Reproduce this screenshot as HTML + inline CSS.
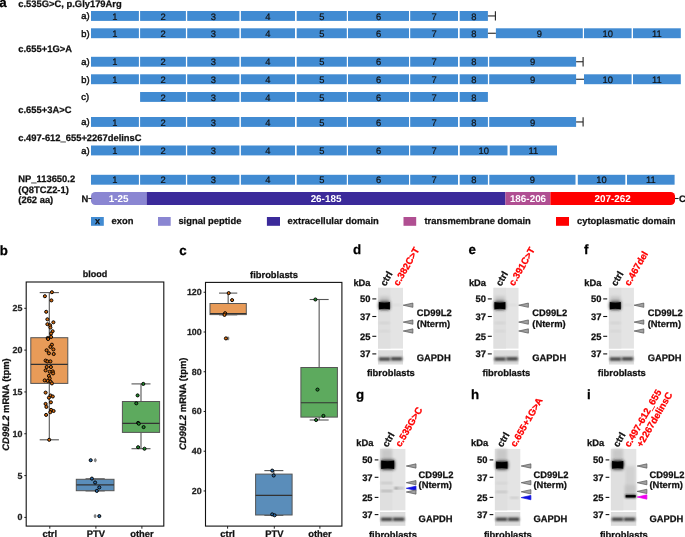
<!DOCTYPE html>
<html><head><meta charset="utf-8"><style>
html,body{margin:0;padding:0;background:#fff;}
svg{display:block;font-family:"Liberation Sans", sans-serif;will-change:transform;text-rendering:geometricPrecision;}
</style></head><body>
<svg width="685" height="537" viewBox="0 0 685 537">
<defs>
<filter id="bl1" x="-50%" y="-50%" width="200%" height="200%"><feGaussianBlur stdDeviation="0.85"/></filter>
<filter id="bl05" x="-50%" y="-50%" width="200%" height="200%"><feGaussianBlur stdDeviation="0.5"/></filter>
<filter id="bl08" x="-50%" y="-50%" width="200%" height="200%"><feGaussianBlur stdDeviation="0.8"/></filter>
<filter id="bl2" x="-50%" y="-50%" width="200%" height="200%"><feGaussianBlur stdDeviation="1.5"/></filter>
</defs>
<rect x="0" y="0" width="685" height="537" fill="#fff"/>
<text x="-0.8" y="6.9" font-size="13.3" font-weight="bold" fill="#000" text-anchor="start" stroke="#000" stroke-width="0.25" >a</text>
<text x="18.3" y="6.9" font-size="9.4" font-weight="bold" fill="#111" text-anchor="start" stroke="#111" stroke-width="0.25" >c.535G&gt;C, p.Gly179Arg</text>
<text x="81.2" y="19.3" font-size="9.4" font-weight="normal" fill="#111" text-anchor="start" stroke="#111" stroke-width="0.45" >a)</text>
<rect x="91" y="11" width="47.9" height="9.9" fill="#418BD2" />
<text x="114.95" y="19.6" font-size="9.4" font-weight="normal" fill="#111" text-anchor="middle" stroke="#111" stroke-width="0.2" >1</text>
<rect x="140.1" y="11" width="45.8" height="9.9" fill="#418BD2" />
<text x="163" y="19.6" font-size="9.4" font-weight="normal" fill="#111" text-anchor="middle" stroke="#111" stroke-width="0.2" >2</text>
<rect x="187.2" y="11" width="52.2" height="9.9" fill="#418BD2" />
<text x="213.3" y="19.6" font-size="9.4" font-weight="normal" fill="#111" text-anchor="middle" stroke="#111" stroke-width="0.2" >3</text>
<rect x="240.9" y="11" width="54.1" height="9.9" fill="#418BD2" />
<text x="267.95" y="19.6" font-size="9.4" font-weight="normal" fill="#111" text-anchor="middle" stroke="#111" stroke-width="0.2" >4</text>
<rect x="296.7" y="11" width="50.1" height="9.9" fill="#418BD2" />
<text x="321.75" y="19.6" font-size="9.4" font-weight="normal" fill="#111" text-anchor="middle" stroke="#111" stroke-width="0.2" >5</text>
<rect x="348" y="11" width="61" height="9.9" fill="#418BD2" />
<text x="378.5" y="19.6" font-size="9.4" font-weight="normal" fill="#111" text-anchor="middle" stroke="#111" stroke-width="0.2" >6</text>
<rect x="410.2" y="11" width="47.8" height="9.9" fill="#418BD2" />
<text x="434.1" y="19.6" font-size="9.4" font-weight="normal" fill="#111" text-anchor="middle" stroke="#111" stroke-width="0.2" >7</text>
<rect x="459.7" y="11" width="28.2" height="9.9" fill="#418BD2" />
<text x="473.8" y="19.6" font-size="9.4" font-weight="normal" fill="#111" text-anchor="middle" stroke="#111" stroke-width="0.2" >8</text>
<line x1="487.9" y1="15.95" x2="495.4" y2="15.95" stroke="#222222" stroke-width="1.1" />
<line x1="495.4" y1="11.3" x2="495.4" y2="20.6" stroke="#222222" stroke-width="1.1" />
<text x="81.2" y="36.6" font-size="9.4" font-weight="normal" fill="#111" text-anchor="start" stroke="#111" stroke-width="0.45" >b)</text>
<rect x="91" y="28.3" width="47.9" height="9.9" fill="#418BD2" />
<text x="114.95" y="36.9" font-size="9.4" font-weight="normal" fill="#111" text-anchor="middle" stroke="#111" stroke-width="0.2" >1</text>
<rect x="140.1" y="28.3" width="45.8" height="9.9" fill="#418BD2" />
<text x="163" y="36.9" font-size="9.4" font-weight="normal" fill="#111" text-anchor="middle" stroke="#111" stroke-width="0.2" >2</text>
<rect x="187.2" y="28.3" width="52.2" height="9.9" fill="#418BD2" />
<text x="213.3" y="36.9" font-size="9.4" font-weight="normal" fill="#111" text-anchor="middle" stroke="#111" stroke-width="0.2" >3</text>
<rect x="240.9" y="28.3" width="54.1" height="9.9" fill="#418BD2" />
<text x="267.95" y="36.9" font-size="9.4" font-weight="normal" fill="#111" text-anchor="middle" stroke="#111" stroke-width="0.2" >4</text>
<rect x="296.7" y="28.3" width="50.1" height="9.9" fill="#418BD2" />
<text x="321.75" y="36.9" font-size="9.4" font-weight="normal" fill="#111" text-anchor="middle" stroke="#111" stroke-width="0.2" >5</text>
<rect x="348" y="28.3" width="61" height="9.9" fill="#418BD2" />
<text x="378.5" y="36.9" font-size="9.4" font-weight="normal" fill="#111" text-anchor="middle" stroke="#111" stroke-width="0.2" >6</text>
<rect x="410.2" y="28.3" width="47.8" height="9.9" fill="#418BD2" />
<text x="434.1" y="36.9" font-size="9.4" font-weight="normal" fill="#111" text-anchor="middle" stroke="#111" stroke-width="0.2" >7</text>
<rect x="459.7" y="28.3" width="28.2" height="9.9" fill="#418BD2" />
<text x="473.8" y="36.9" font-size="9.4" font-weight="normal" fill="#111" text-anchor="middle" stroke="#111" stroke-width="0.2" >8</text>
<line x1="487.9" y1="33.25" x2="495.9" y2="33.25" stroke="#222222" stroke-width="1.1" />
<rect x="495.9" y="28.3" width="86.9" height="9.9" fill="#418BD2" />
<text x="539.35" y="36.9" font-size="9.4" font-weight="normal" fill="#111" text-anchor="middle" stroke="#111" stroke-width="0.2" >9</text>
<rect x="584" y="28.3" width="47.6" height="9.9" fill="#418BD2" />
<text x="607.8" y="36.9" font-size="9.4" font-weight="normal" fill="#111" text-anchor="middle" stroke="#111" stroke-width="0.2" >10</text>
<rect x="633" y="28.3" width="47.8" height="9.9" fill="#418BD2" />
<text x="656.9" y="36.9" font-size="9.4" font-weight="normal" fill="#111" text-anchor="middle" stroke="#111" stroke-width="0.2" >11</text>
<text x="18.3" y="52.4" font-size="9.4" font-weight="bold" fill="#111" text-anchor="start" stroke="#111" stroke-width="0.25" >c.655+1G&gt;A</text>
<text x="81.2" y="65.1" font-size="9.4" font-weight="normal" fill="#111" text-anchor="start" stroke="#111" stroke-width="0.45" >a)</text>
<rect x="91" y="56.8" width="47.9" height="9.9" fill="#418BD2" />
<text x="114.95" y="65.4" font-size="9.4" font-weight="normal" fill="#111" text-anchor="middle" stroke="#111" stroke-width="0.2" >1</text>
<rect x="140.1" y="56.8" width="45.8" height="9.9" fill="#418BD2" />
<text x="163" y="65.4" font-size="9.4" font-weight="normal" fill="#111" text-anchor="middle" stroke="#111" stroke-width="0.2" >2</text>
<rect x="187.2" y="56.8" width="52.2" height="9.9" fill="#418BD2" />
<text x="213.3" y="65.4" font-size="9.4" font-weight="normal" fill="#111" text-anchor="middle" stroke="#111" stroke-width="0.2" >3</text>
<rect x="240.9" y="56.8" width="54.1" height="9.9" fill="#418BD2" />
<text x="267.95" y="65.4" font-size="9.4" font-weight="normal" fill="#111" text-anchor="middle" stroke="#111" stroke-width="0.2" >4</text>
<rect x="296.7" y="56.8" width="50.1" height="9.9" fill="#418BD2" />
<text x="321.75" y="65.4" font-size="9.4" font-weight="normal" fill="#111" text-anchor="middle" stroke="#111" stroke-width="0.2" >5</text>
<rect x="348" y="56.8" width="61" height="9.9" fill="#418BD2" />
<text x="378.5" y="65.4" font-size="9.4" font-weight="normal" fill="#111" text-anchor="middle" stroke="#111" stroke-width="0.2" >6</text>
<rect x="410.2" y="56.8" width="47.8" height="9.9" fill="#418BD2" />
<text x="434.1" y="65.4" font-size="9.4" font-weight="normal" fill="#111" text-anchor="middle" stroke="#111" stroke-width="0.2" >7</text>
<rect x="459.7" y="56.8" width="28.2" height="9.9" fill="#418BD2" />
<text x="473.8" y="65.4" font-size="9.4" font-weight="normal" fill="#111" text-anchor="middle" stroke="#111" stroke-width="0.2" >8</text>
<rect x="489.2" y="56.8" width="86.9" height="9.9" fill="#418BD2" />
<text x="532.65" y="65.4" font-size="9.4" font-weight="normal" fill="#111" text-anchor="middle" stroke="#111" stroke-width="0.2" >9</text>
<line x1="576.1" y1="61.75" x2="583.1" y2="61.75" stroke="#222222" stroke-width="1.1" />
<line x1="583.1" y1="57.1" x2="583.1" y2="66.4" stroke="#222222" stroke-width="1.1" />
<text x="81.2" y="82.6" font-size="9.4" font-weight="normal" fill="#111" text-anchor="start" stroke="#111" stroke-width="0.45" >b)</text>
<rect x="91" y="74.3" width="47.9" height="9.9" fill="#418BD2" />
<text x="114.95" y="82.9" font-size="9.4" font-weight="normal" fill="#111" text-anchor="middle" stroke="#111" stroke-width="0.2" >1</text>
<rect x="140.1" y="74.3" width="45.8" height="9.9" fill="#418BD2" />
<text x="163" y="82.9" font-size="9.4" font-weight="normal" fill="#111" text-anchor="middle" stroke="#111" stroke-width="0.2" >2</text>
<rect x="187.2" y="74.3" width="52.2" height="9.9" fill="#418BD2" />
<text x="213.3" y="82.9" font-size="9.4" font-weight="normal" fill="#111" text-anchor="middle" stroke="#111" stroke-width="0.2" >3</text>
<rect x="240.9" y="74.3" width="54.1" height="9.9" fill="#418BD2" />
<text x="267.95" y="82.9" font-size="9.4" font-weight="normal" fill="#111" text-anchor="middle" stroke="#111" stroke-width="0.2" >4</text>
<rect x="296.7" y="74.3" width="50.1" height="9.9" fill="#418BD2" />
<text x="321.75" y="82.9" font-size="9.4" font-weight="normal" fill="#111" text-anchor="middle" stroke="#111" stroke-width="0.2" >5</text>
<rect x="348" y="74.3" width="61" height="9.9" fill="#418BD2" />
<text x="378.5" y="82.9" font-size="9.4" font-weight="normal" fill="#111" text-anchor="middle" stroke="#111" stroke-width="0.2" >6</text>
<rect x="410.2" y="74.3" width="47.8" height="9.9" fill="#418BD2" />
<text x="434.1" y="82.9" font-size="9.4" font-weight="normal" fill="#111" text-anchor="middle" stroke="#111" stroke-width="0.2" >7</text>
<rect x="459.7" y="74.3" width="28.2" height="9.9" fill="#418BD2" />
<text x="473.8" y="82.9" font-size="9.4" font-weight="normal" fill="#111" text-anchor="middle" stroke="#111" stroke-width="0.2" >8</text>
<rect x="489.2" y="74.3" width="86.9" height="9.9" fill="#418BD2" />
<text x="532.65" y="82.9" font-size="9.4" font-weight="normal" fill="#111" text-anchor="middle" stroke="#111" stroke-width="0.2" >9</text>
<line x1="576.1" y1="79.25" x2="584" y2="79.25" stroke="#222222" stroke-width="1.1" />
<rect x="584" y="74.3" width="47.6" height="9.9" fill="#418BD2" />
<text x="607.8" y="82.9" font-size="9.4" font-weight="normal" fill="#111" text-anchor="middle" stroke="#111" stroke-width="0.2" >10</text>
<rect x="633" y="74.3" width="47.8" height="9.9" fill="#418BD2" />
<text x="656.9" y="82.9" font-size="9.4" font-weight="normal" fill="#111" text-anchor="middle" stroke="#111" stroke-width="0.2" >11</text>
<text x="81.2" y="100.3" font-size="9.4" font-weight="normal" fill="#111" text-anchor="start" stroke="#111" stroke-width="0.45" >c)</text>
<rect x="140.1" y="92" width="45.8" height="9.9" fill="#418BD2" />
<text x="163" y="100.6" font-size="9.4" font-weight="normal" fill="#111" text-anchor="middle" stroke="#111" stroke-width="0.2" >2</text>
<rect x="187.2" y="92" width="52.2" height="9.9" fill="#418BD2" />
<text x="213.3" y="100.6" font-size="9.4" font-weight="normal" fill="#111" text-anchor="middle" stroke="#111" stroke-width="0.2" >3</text>
<rect x="240.9" y="92" width="54.1" height="9.9" fill="#418BD2" />
<text x="267.95" y="100.6" font-size="9.4" font-weight="normal" fill="#111" text-anchor="middle" stroke="#111" stroke-width="0.2" >4</text>
<rect x="296.7" y="92" width="50.1" height="9.9" fill="#418BD2" />
<text x="321.75" y="100.6" font-size="9.4" font-weight="normal" fill="#111" text-anchor="middle" stroke="#111" stroke-width="0.2" >5</text>
<rect x="348" y="92" width="61" height="9.9" fill="#418BD2" />
<text x="378.5" y="100.6" font-size="9.4" font-weight="normal" fill="#111" text-anchor="middle" stroke="#111" stroke-width="0.2" >6</text>
<rect x="410.2" y="92" width="47.8" height="9.9" fill="#418BD2" />
<text x="434.1" y="100.6" font-size="9.4" font-weight="normal" fill="#111" text-anchor="middle" stroke="#111" stroke-width="0.2" >7</text>
<rect x="459.7" y="92" width="28.2" height="9.9" fill="#418BD2" />
<text x="473.8" y="100.6" font-size="9.4" font-weight="normal" fill="#111" text-anchor="middle" stroke="#111" stroke-width="0.2" >8</text>
<text x="18.3" y="113.1" font-size="9.4" font-weight="bold" fill="#111" text-anchor="start" stroke="#111" stroke-width="0.25" >c.655+3A&gt;C</text>
<text x="81.2" y="125.3" font-size="9.4" font-weight="normal" fill="#111" text-anchor="start" stroke="#111" stroke-width="0.45" >a)</text>
<rect x="91" y="117" width="47.9" height="9.9" fill="#418BD2" />
<text x="114.95" y="125.6" font-size="9.4" font-weight="normal" fill="#111" text-anchor="middle" stroke="#111" stroke-width="0.2" >1</text>
<rect x="140.1" y="117" width="45.8" height="9.9" fill="#418BD2" />
<text x="163" y="125.6" font-size="9.4" font-weight="normal" fill="#111" text-anchor="middle" stroke="#111" stroke-width="0.2" >2</text>
<rect x="187.2" y="117" width="52.2" height="9.9" fill="#418BD2" />
<text x="213.3" y="125.6" font-size="9.4" font-weight="normal" fill="#111" text-anchor="middle" stroke="#111" stroke-width="0.2" >3</text>
<rect x="240.9" y="117" width="54.1" height="9.9" fill="#418BD2" />
<text x="267.95" y="125.6" font-size="9.4" font-weight="normal" fill="#111" text-anchor="middle" stroke="#111" stroke-width="0.2" >4</text>
<rect x="296.7" y="117" width="50.1" height="9.9" fill="#418BD2" />
<text x="321.75" y="125.6" font-size="9.4" font-weight="normal" fill="#111" text-anchor="middle" stroke="#111" stroke-width="0.2" >5</text>
<rect x="348" y="117" width="61" height="9.9" fill="#418BD2" />
<text x="378.5" y="125.6" font-size="9.4" font-weight="normal" fill="#111" text-anchor="middle" stroke="#111" stroke-width="0.2" >6</text>
<rect x="410.2" y="117" width="47.8" height="9.9" fill="#418BD2" />
<text x="434.1" y="125.6" font-size="9.4" font-weight="normal" fill="#111" text-anchor="middle" stroke="#111" stroke-width="0.2" >7</text>
<rect x="459.7" y="117" width="28.2" height="9.9" fill="#418BD2" />
<text x="473.8" y="125.6" font-size="9.4" font-weight="normal" fill="#111" text-anchor="middle" stroke="#111" stroke-width="0.2" >8</text>
<rect x="489.2" y="117" width="86.9" height="9.9" fill="#418BD2" />
<text x="532.65" y="125.6" font-size="9.4" font-weight="normal" fill="#111" text-anchor="middle" stroke="#111" stroke-width="0.2" >9</text>
<line x1="576.1" y1="121.95" x2="583.1" y2="121.95" stroke="#222222" stroke-width="1.1" />
<line x1="583.1" y1="117.3" x2="583.1" y2="126.6" stroke="#222222" stroke-width="1.1" />
<text x="18.3" y="141.2" font-size="9.4" font-weight="bold" fill="#111" text-anchor="start" stroke="#111" stroke-width="0.25" >c.497-612_655+2267delinsC</text>
<text x="81.2" y="153.8" font-size="9.4" font-weight="normal" fill="#111" text-anchor="start" stroke="#111" stroke-width="0.45" >a)</text>
<rect x="91" y="145.5" width="47.9" height="9.9" fill="#418BD2" />
<text x="114.95" y="154.1" font-size="9.4" font-weight="normal" fill="#111" text-anchor="middle" stroke="#111" stroke-width="0.2" >1</text>
<rect x="140.1" y="145.5" width="45.8" height="9.9" fill="#418BD2" />
<text x="163" y="154.1" font-size="9.4" font-weight="normal" fill="#111" text-anchor="middle" stroke="#111" stroke-width="0.2" >2</text>
<rect x="187.2" y="145.5" width="52.2" height="9.9" fill="#418BD2" />
<text x="213.3" y="154.1" font-size="9.4" font-weight="normal" fill="#111" text-anchor="middle" stroke="#111" stroke-width="0.2" >3</text>
<rect x="240.9" y="145.5" width="54.1" height="9.9" fill="#418BD2" />
<text x="267.95" y="154.1" font-size="9.4" font-weight="normal" fill="#111" text-anchor="middle" stroke="#111" stroke-width="0.2" >4</text>
<rect x="296.7" y="145.5" width="50.1" height="9.9" fill="#418BD2" />
<text x="321.75" y="154.1" font-size="9.4" font-weight="normal" fill="#111" text-anchor="middle" stroke="#111" stroke-width="0.2" >5</text>
<rect x="348" y="145.5" width="61" height="9.9" fill="#418BD2" />
<text x="378.5" y="154.1" font-size="9.4" font-weight="normal" fill="#111" text-anchor="middle" stroke="#111" stroke-width="0.2" >6</text>
<rect x="410.2" y="145.5" width="47.8" height="9.9" fill="#418BD2" />
<text x="434.1" y="154.1" font-size="9.4" font-weight="normal" fill="#111" text-anchor="middle" stroke="#111" stroke-width="0.2" >7</text>
<rect x="459.8" y="145.5" width="47.7" height="9.9" fill="#418BD2" />
<text x="483.65" y="154.1" font-size="9.4" font-weight="normal" fill="#111" text-anchor="middle" stroke="#111" stroke-width="0.2" >10</text>
<rect x="509.8" y="145.5" width="47.2" height="9.9" fill="#418BD2" />
<text x="533.4" y="154.1" font-size="9.4" font-weight="normal" fill="#111" text-anchor="middle" stroke="#111" stroke-width="0.2" >11</text>
<text x="18.3" y="181.8" font-size="9.4" font-weight="bold" fill="#111" text-anchor="start" stroke="#111" stroke-width="0.25" >NP_113650.2</text>
<text x="18.3" y="192.6" font-size="9.4" font-weight="bold" fill="#111" text-anchor="start" stroke="#111" stroke-width="0.25" >(Q8TCZ2-1)</text>
<text x="18.3" y="203" font-size="9.4" font-weight="bold" fill="#111" text-anchor="start" stroke="#111" stroke-width="0.25" >(262 aa)</text>
<rect x="91" y="174.8" width="47.9" height="9.9" fill="#418BD2" />
<text x="114.95" y="183.4" font-size="9.4" font-weight="normal" fill="#111" text-anchor="middle" stroke="#111" stroke-width="0.2" >1</text>
<rect x="140.1" y="174.8" width="45.8" height="9.9" fill="#418BD2" />
<text x="163" y="183.4" font-size="9.4" font-weight="normal" fill="#111" text-anchor="middle" stroke="#111" stroke-width="0.2" >2</text>
<rect x="187.2" y="174.8" width="52.2" height="9.9" fill="#418BD2" />
<text x="213.3" y="183.4" font-size="9.4" font-weight="normal" fill="#111" text-anchor="middle" stroke="#111" stroke-width="0.2" >3</text>
<rect x="240.9" y="174.8" width="54.1" height="9.9" fill="#418BD2" />
<text x="267.95" y="183.4" font-size="9.4" font-weight="normal" fill="#111" text-anchor="middle" stroke="#111" stroke-width="0.2" >4</text>
<rect x="296.7" y="174.8" width="50.1" height="9.9" fill="#418BD2" />
<text x="321.75" y="183.4" font-size="9.4" font-weight="normal" fill="#111" text-anchor="middle" stroke="#111" stroke-width="0.2" >5</text>
<rect x="348" y="174.8" width="61" height="9.9" fill="#418BD2" />
<text x="378.5" y="183.4" font-size="9.4" font-weight="normal" fill="#111" text-anchor="middle" stroke="#111" stroke-width="0.2" >6</text>
<rect x="410.2" y="174.8" width="47.8" height="9.9" fill="#418BD2" />
<text x="434.1" y="183.4" font-size="9.4" font-weight="normal" fill="#111" text-anchor="middle" stroke="#111" stroke-width="0.2" >7</text>
<rect x="459.7" y="174.8" width="28.2" height="9.9" fill="#418BD2" />
<text x="473.8" y="183.4" font-size="9.4" font-weight="normal" fill="#111" text-anchor="middle" stroke="#111" stroke-width="0.2" >8</text>
<rect x="489.3" y="174.8" width="86.2" height="9.9" fill="#418BD2" />
<text x="532.4" y="183.4" font-size="9.4" font-weight="normal" fill="#111" text-anchor="middle" stroke="#111" stroke-width="0.2" >9</text>
<rect x="577.8" y="174.8" width="47.5" height="9.9" fill="#418BD2" />
<text x="601.55" y="183.4" font-size="9.4" font-weight="normal" fill="#111" text-anchor="middle" stroke="#111" stroke-width="0.2" >10</text>
<rect x="627" y="174.8" width="47.6" height="9.9" fill="#418BD2" />
<text x="650.8" y="183.4" font-size="9.4" font-weight="normal" fill="#111" text-anchor="middle" stroke="#111" stroke-width="0.2" >11</text>
<defs><clipPath id="pclip"><rect x="90.9" y="192" width="584.2" height="13.1" rx="4.5" ry="4.5"/></clipPath></defs>
<g clip-path="url(#pclip)">
<rect x="90.9" y="192" width="55.7" height="13.1" fill="#8A86D2" />
<rect x="146.6" y="192" width="358.8" height="13.1" fill="#3B2A9A" />
<rect x="505.4" y="192" width="45" height="13.1" fill="#B04F92" />
<rect x="550.4" y="192" width="124.7" height="13.1" fill="#FF0000" />
</g>
<text x="118.7" y="202.1" font-size="9.9" font-weight="bold" fill="#fff" text-anchor="middle" >1-25</text>
<text x="326" y="202.1" font-size="9.9" font-weight="bold" fill="#fff" text-anchor="middle" >26-185</text>
<text x="528" y="202.1" font-size="9.9" font-weight="bold" fill="#fff" text-anchor="middle" >186-206</text>
<text x="612.7" y="202.1" font-size="9.9" font-weight="bold" fill="#fff" text-anchor="middle" >207-262</text>
<text x="81.4" y="202.3" font-size="9.4" font-weight="bold" fill="#111" text-anchor="start" stroke="#111" stroke-width="0.25" >N</text>
<line x1="88.3" y1="198.5" x2="91.5" y2="198.5" stroke="#222222" stroke-width="1.1" />
<line x1="675" y1="198.5" x2="678.6" y2="198.5" stroke="#222222" stroke-width="1.1" />
<text x="679" y="202.3" font-size="9.4" font-weight="bold" fill="#111" text-anchor="start" stroke="#111" stroke-width="0.25" >C</text>
<rect x="91" y="217" width="12.8" height="8.8" fill="#418BD2" />
<text x="97.4" y="224.3" font-size="9.0" font-weight="bold" fill="#111" text-anchor="middle" stroke="#111" stroke-width="0.25" >x</text>
<text x="111.5" y="224.3" font-size="9.4" font-weight="bold" fill="#111" text-anchor="start" stroke="#111" stroke-width="0.25" >exon</text>
<rect x="158" y="217" width="12.7" height="8.8" fill="#8A86D2" />
<text x="178.4" y="224.3" font-size="9.4" font-weight="bold" fill="#111" text-anchor="start" stroke="#111" stroke-width="0.25" >signal peptide</text>
<rect x="266.9" y="217" width="13.1" height="8.8" fill="#3B2A9A" />
<text x="287.6" y="224.3" font-size="9.4" font-weight="bold" fill="#111" text-anchor="start" stroke="#111" stroke-width="0.25" >extracellular domain</text>
<rect x="403.5" y="217" width="12.7" height="8.8" fill="#B04F92" />
<text x="424.5" y="224.3" font-size="9.4" font-weight="bold" fill="#111" text-anchor="start" stroke="#111" stroke-width="0.25" >transmembrane domain</text>
<rect x="556" y="217" width="13" height="8.8" fill="#FF0000" />
<text x="577" y="224.3" font-size="9.4" font-weight="bold" fill="#111" text-anchor="start" stroke="#111" stroke-width="0.25" >cytoplasmatic domain</text>
<text x="-0.3" y="254.7" font-size="13.3" font-weight="bold" fill="#000" text-anchor="start" stroke="#000" stroke-width="0.25" >b</text>
<text x="95" y="277.4" font-size="9.0" font-weight="bold" fill="#111" text-anchor="middle" stroke="#111" stroke-width="0.25" >blood</text>
<line x1="24.3" y1="517.4" x2="26.2" y2="517.4" stroke="#222" stroke-width="1" />
<text x="22.4" y="520.4" font-size="8.9" font-weight="bold" fill="#222" text-anchor="end" stroke="#222" stroke-width="0.25" >0</text>
<line x1="24.3" y1="475.58" x2="26.2" y2="475.58" stroke="#222" stroke-width="1" />
<text x="22.4" y="478.58" font-size="8.9" font-weight="bold" fill="#222" text-anchor="end" stroke="#222" stroke-width="0.25" >5</text>
<line x1="24.3" y1="433.76" x2="26.2" y2="433.76" stroke="#222" stroke-width="1" />
<text x="22.4" y="436.76" font-size="8.9" font-weight="bold" fill="#222" text-anchor="end" stroke="#222" stroke-width="0.25" >10</text>
<line x1="24.3" y1="391.94" x2="26.2" y2="391.94" stroke="#222" stroke-width="1" />
<text x="22.4" y="394.94" font-size="8.9" font-weight="bold" fill="#222" text-anchor="end" stroke="#222" stroke-width="0.25" >15</text>
<line x1="24.3" y1="350.12" x2="26.2" y2="350.12" stroke="#222" stroke-width="1" />
<text x="22.4" y="353.12" font-size="8.9" font-weight="bold" fill="#222" text-anchor="end" stroke="#222" stroke-width="0.25" >20</text>
<line x1="24.3" y1="308.3" x2="26.2" y2="308.3" stroke="#222" stroke-width="1" />
<text x="22.4" y="311.3" font-size="8.9" font-weight="bold" fill="#222" text-anchor="end" stroke="#222" stroke-width="0.25" >25</text>
<line x1="49.8" y1="526.1" x2="49.8" y2="528.7" stroke="#222" stroke-width="1" />
<text x="49.8" y="536.5" font-size="9.4" font-weight="bold" fill="#111" text-anchor="middle" stroke="#111" stroke-width="0.25" >ctrl</text>
<line x1="95.9" y1="526.1" x2="95.9" y2="528.7" stroke="#222" stroke-width="1" />
<text x="95.9" y="536.5" font-size="9.4" font-weight="bold" fill="#111" text-anchor="middle" stroke="#111" stroke-width="0.25" >PTV</text>
<line x1="141.9" y1="526.1" x2="141.9" y2="528.7" stroke="#222" stroke-width="1" />
<text x="141.9" y="536.5" font-size="9.4" font-weight="bold" fill="#111" text-anchor="middle" stroke="#111" stroke-width="0.25" >other</text>
<text transform="translate(8.5,404.5) rotate(-90)" font-size="9.45" font-weight="bold" fill="#111" stroke="#111" stroke-width="0.25" text-anchor="middle"><tspan font-style="italic">CD99L2</tspan> mRNA (tpm)</text>
<line x1="49.3" y1="292.6" x2="49.3" y2="337.7" stroke="#555" stroke-width="1.1" />
<line x1="49.3" y1="383.4" x2="49.3" y2="439.8" stroke="#555" stroke-width="1.1" />
<line x1="39.7" y1="292.6" x2="58.9" y2="292.6" stroke="#555" stroke-width="1.1" />
<line x1="39.7" y1="439.8" x2="58.9" y2="439.8" stroke="#555" stroke-width="1.1" />
<rect x="30.8" y="337.7" width="37" height="45.7" fill="#E89B58" stroke="#555" stroke-width="1"/>
<line x1="30.8" y1="364.4" x2="67.8" y2="364.4" stroke="#333" stroke-width="1.1" />
<line x1="95.15" y1="478.8" x2="95.15" y2="479.3" stroke="#555" stroke-width="1.1" />
<line x1="95.15" y1="490.7" x2="95.15" y2="490.9" stroke="#555" stroke-width="1.1" />
<line x1="85.55" y1="478.8" x2="104.75" y2="478.8" stroke="#555" stroke-width="1.1" />
<line x1="85.55" y1="490.9" x2="104.75" y2="490.9" stroke="#555" stroke-width="1.1" />
<rect x="76.3" y="479.3" width="37.7" height="11.4" fill="#5A8DBA" stroke="#555" stroke-width="1"/>
<line x1="76.3" y1="484.9" x2="114" y2="484.9" stroke="#333" stroke-width="1.1" />
<line x1="141" y1="383.9" x2="141" y2="401.5" stroke="#555" stroke-width="1.1" />
<line x1="141" y1="432.4" x2="141" y2="448.7" stroke="#555" stroke-width="1.1" />
<line x1="131.5" y1="383.9" x2="150.5" y2="383.9" stroke="#555" stroke-width="1.1" />
<line x1="131.5" y1="448.7" x2="150.5" y2="448.7" stroke="#555" stroke-width="1.1" />
<rect x="122.4" y="401.5" width="37.2" height="30.9" fill="#5DAA5E" stroke="#555" stroke-width="1"/>
<line x1="122.4" y1="423.4" x2="159.6" y2="423.4" stroke="#333" stroke-width="1.1" />
<circle cx="51.9" cy="292.2" r="1.55" fill="#D26A10" stroke="#000" stroke-width="0.95"/>
<circle cx="44.9" cy="296.2" r="1.55" fill="#D26A10" stroke="#000" stroke-width="0.95"/>
<circle cx="51.4" cy="300.4" r="1.55" fill="#D26A10" stroke="#000" stroke-width="0.95"/>
<circle cx="46.2" cy="311.8" r="1.55" fill="#D26A10" stroke="#000" stroke-width="0.95"/>
<circle cx="47.4" cy="319.3" r="1.55" fill="#D26A10" stroke="#000" stroke-width="0.95"/>
<circle cx="53.4" cy="322.3" r="1.55" fill="#D26A10" stroke="#000" stroke-width="0.95"/>
<circle cx="47.4" cy="324.2" r="1.55" fill="#D26A10" stroke="#000" stroke-width="0.95"/>
<circle cx="50.1" cy="325.3" r="1.55" fill="#D26A10" stroke="#000" stroke-width="0.95"/>
<circle cx="50.4" cy="327.5" r="1.55" fill="#D26A10" stroke="#000" stroke-width="0.95"/>
<circle cx="52.6" cy="331.2" r="1.55" fill="#D26A10" stroke="#000" stroke-width="0.95"/>
<circle cx="51.1" cy="333.5" r="1.55" fill="#D26A10" stroke="#000" stroke-width="0.95"/>
<circle cx="51.1" cy="336.9" r="1.55" fill="#D26A10" stroke="#000" stroke-width="0.95"/>
<circle cx="47.7" cy="338" r="1.55" fill="#D26A10" stroke="#000" stroke-width="0.95"/>
<circle cx="48.1" cy="339" r="1.55" fill="#D26A10" stroke="#000" stroke-width="0.95"/>
<circle cx="51.9" cy="344.7" r="1.55" fill="#D26A10" stroke="#000" stroke-width="0.95"/>
<circle cx="50.4" cy="346.9" r="1.55" fill="#D26A10" stroke="#000" stroke-width="0.95"/>
<circle cx="53.4" cy="349.4" r="1.55" fill="#D26A10" stroke="#000" stroke-width="0.95"/>
<circle cx="46.6" cy="350.3" r="1.55" fill="#D26A10" stroke="#000" stroke-width="0.95"/>
<circle cx="48.9" cy="353.3" r="1.55" fill="#D26A10" stroke="#000" stroke-width="0.95"/>
<circle cx="53.7" cy="354" r="1.55" fill="#D26A10" stroke="#000" stroke-width="0.95"/>
<circle cx="45.6" cy="360.6" r="1.55" fill="#D26A10" stroke="#000" stroke-width="0.95"/>
<circle cx="47.4" cy="361.4" r="1.55" fill="#D26A10" stroke="#000" stroke-width="0.95"/>
<circle cx="50.4" cy="361.4" r="1.55" fill="#D26A10" stroke="#000" stroke-width="0.95"/>
<circle cx="46.7" cy="367" r="1.55" fill="#D26A10" stroke="#000" stroke-width="0.95"/>
<circle cx="50.9" cy="367" r="1.55" fill="#D26A10" stroke="#000" stroke-width="0.95"/>
<circle cx="45.6" cy="370.4" r="1.55" fill="#D26A10" stroke="#000" stroke-width="0.95"/>
<circle cx="49.7" cy="371.7" r="1.55" fill="#D26A10" stroke="#000" stroke-width="0.95"/>
<circle cx="52.8" cy="371.4" r="1.55" fill="#D26A10" stroke="#000" stroke-width="0.95"/>
<circle cx="53.1" cy="373.4" r="1.55" fill="#D26A10" stroke="#000" stroke-width="0.95"/>
<circle cx="48.9" cy="375.9" r="1.55" fill="#D26A10" stroke="#000" stroke-width="0.95"/>
<circle cx="49.7" cy="378.4" r="1.55" fill="#D26A10" stroke="#000" stroke-width="0.95"/>
<circle cx="44.7" cy="380.4" r="1.55" fill="#D26A10" stroke="#000" stroke-width="0.95"/>
<circle cx="47.7" cy="380.9" r="1.55" fill="#D26A10" stroke="#000" stroke-width="0.95"/>
<circle cx="50.6" cy="381.8" r="1.55" fill="#D26A10" stroke="#000" stroke-width="0.95"/>
<circle cx="51.9" cy="383.4" r="1.55" fill="#D26A10" stroke="#000" stroke-width="0.95"/>
<circle cx="45.6" cy="392.6" r="1.55" fill="#D26A10" stroke="#000" stroke-width="0.95"/>
<circle cx="50.6" cy="395.5" r="1.55" fill="#D26A10" stroke="#000" stroke-width="0.95"/>
<circle cx="52.8" cy="396.5" r="1.55" fill="#D26A10" stroke="#000" stroke-width="0.95"/>
<circle cx="48.9" cy="397.7" r="1.55" fill="#D26A10" stroke="#000" stroke-width="0.95"/>
<circle cx="50.9" cy="402.3" r="1.55" fill="#D26A10" stroke="#000" stroke-width="0.95"/>
<circle cx="45.6" cy="403.9" r="1.55" fill="#D26A10" stroke="#000" stroke-width="0.95"/>
<circle cx="46.4" cy="406.9" r="1.55" fill="#D26A10" stroke="#000" stroke-width="0.95"/>
<circle cx="51.1" cy="409.9" r="1.55" fill="#D26A10" stroke="#000" stroke-width="0.95"/>
<circle cx="53.6" cy="411" r="1.55" fill="#D26A10" stroke="#000" stroke-width="0.95"/>
<circle cx="50.3" cy="412.2" r="1.55" fill="#D26A10" stroke="#000" stroke-width="0.95"/>
<circle cx="46.1" cy="414.9" r="1.55" fill="#D26A10" stroke="#000" stroke-width="0.95"/>
<circle cx="49.2" cy="439.8" r="1.55" fill="#D26A10" stroke="#000" stroke-width="0.95"/>
<ellipse cx="95.3" cy="460.2" rx="1.0" ry="1.7" fill="#8a8a8a" stroke="#555" stroke-width="0.5"/>
<ellipse cx="95.1" cy="516.1" rx="1.0" ry="1.7" fill="#8a8a8a" stroke="#555" stroke-width="0.5"/>
<circle cx="90.7" cy="460.2" r="1.55" fill="#2C6AA6" stroke="#000" stroke-width="0.95"/>
<circle cx="91.9" cy="478.6" r="1.55" fill="#2C6AA6" stroke="#000" stroke-width="0.95"/>
<circle cx="95.1" cy="482.5" r="1.55" fill="#2C6AA6" stroke="#000" stroke-width="0.95"/>
<circle cx="99.3" cy="487.4" r="1.55" fill="#2C6AA6" stroke="#000" stroke-width="0.95"/>
<circle cx="96.8" cy="490.9" r="1.55" fill="#2C6AA6" stroke="#000" stroke-width="0.95"/>
<circle cx="99.3" cy="516.1" r="1.55" fill="#2C6AA6" stroke="#000" stroke-width="0.95"/>
<circle cx="143.3" cy="383.9" r="1.55" fill="#1E8A2A" stroke="#000" stroke-width="0.95"/>
<circle cx="137.6" cy="395.4" r="1.55" fill="#1E8A2A" stroke="#000" stroke-width="0.95"/>
<circle cx="136.3" cy="403.3" r="1.55" fill="#1E8A2A" stroke="#000" stroke-width="0.95"/>
<circle cx="138.1" cy="422.9" r="1.55" fill="#1E8A2A" stroke="#000" stroke-width="0.95"/>
<circle cx="138.8" cy="423.7" r="1.55" fill="#1E8A2A" stroke="#000" stroke-width="0.95"/>
<circle cx="143.6" cy="427.1" r="1.55" fill="#1E8A2A" stroke="#000" stroke-width="0.95"/>
<circle cx="138.1" cy="447.2" r="1.55" fill="#1E8A2A" stroke="#000" stroke-width="0.95"/>
<circle cx="144.5" cy="448.7" r="1.55" fill="#1E8A2A" stroke="#000" stroke-width="0.95"/>
<rect x="26.2" y="282" width="137.6" height="244.1" fill="none" stroke="#111" stroke-width="1.1"/>
<text x="179.3" y="255.4" font-size="13.3" font-weight="bold" fill="#000" text-anchor="start" stroke="#000" stroke-width="0.25" >c</text>
<text x="274" y="277.6" font-size="9.4" font-weight="bold" fill="#111" text-anchor="middle" stroke="#111" stroke-width="0.25" >fibroblasts</text>
<line x1="203.6" y1="490.96" x2="205.5" y2="490.96" stroke="#222" stroke-width="1" />
<text x="201.7" y="493.96" font-size="8.9" font-weight="bold" fill="#222" text-anchor="end" stroke="#222" stroke-width="0.25" >20</text>
<line x1="203.6" y1="451.22" x2="205.5" y2="451.22" stroke="#222" stroke-width="1" />
<text x="201.7" y="454.22" font-size="8.9" font-weight="bold" fill="#222" text-anchor="end" stroke="#222" stroke-width="0.25" >40</text>
<line x1="203.6" y1="411.48" x2="205.5" y2="411.48" stroke="#222" stroke-width="1" />
<text x="201.7" y="414.48" font-size="8.9" font-weight="bold" fill="#222" text-anchor="end" stroke="#222" stroke-width="0.25" >60</text>
<line x1="203.6" y1="371.74" x2="205.5" y2="371.74" stroke="#222" stroke-width="1" />
<text x="201.7" y="374.74" font-size="8.9" font-weight="bold" fill="#222" text-anchor="end" stroke="#222" stroke-width="0.25" >80</text>
<line x1="203.6" y1="332" x2="205.5" y2="332" stroke="#222" stroke-width="1" />
<text x="201.7" y="335" font-size="8.9" font-weight="bold" fill="#222" text-anchor="end" stroke="#222" stroke-width="0.25" >100</text>
<line x1="203.6" y1="292.26" x2="205.5" y2="292.26" stroke="#222" stroke-width="1" />
<text x="201.7" y="295.26" font-size="8.9" font-weight="bold" fill="#222" text-anchor="end" stroke="#222" stroke-width="0.25" >120</text>
<line x1="227.6" y1="526.1" x2="227.6" y2="528.7" stroke="#222" stroke-width="1" />
<text x="227.6" y="536.5" font-size="9.4" font-weight="bold" fill="#111" text-anchor="middle" stroke="#111" stroke-width="0.25" >ctrl</text>
<line x1="274.3" y1="526.1" x2="274.3" y2="528.7" stroke="#222" stroke-width="1" />
<text x="274.3" y="536.5" font-size="9.4" font-weight="bold" fill="#111" text-anchor="middle" stroke="#111" stroke-width="0.25" >PTV</text>
<line x1="319.9" y1="526.1" x2="319.9" y2="528.7" stroke="#222" stroke-width="1" />
<text x="319.9" y="536.5" font-size="9.4" font-weight="bold" fill="#111" text-anchor="middle" stroke="#111" stroke-width="0.25" >other</text>
<text transform="translate(185.9,403.8) rotate(-90)" font-size="9.45" font-weight="bold" fill="#111" stroke="#111" stroke-width="0.25" text-anchor="middle"><tspan font-style="italic">CD99L2</tspan> mRNA (tpm)</text>
<line x1="228.15" y1="293.1" x2="228.15" y2="303.5" stroke="#555" stroke-width="1.1" />
<line x1="228.15" y1="314.6" x2="228.15" y2="314.8" stroke="#555" stroke-width="1.1" />
<line x1="219.05" y1="293.1" x2="237.25" y2="293.1" stroke="#555" stroke-width="1.1" />
<line x1="219.05" y1="314.8" x2="237.25" y2="314.8" stroke="#555" stroke-width="1.1" />
<rect x="210" y="303.5" width="36.3" height="11.1" fill="#E89B58" stroke="#555" stroke-width="1"/>
<line x1="210" y1="313.5" x2="246.3" y2="313.5" stroke="#333" stroke-width="1.1" />
<line x1="273.85" y1="470.6" x2="273.85" y2="474.1" stroke="#555" stroke-width="1.1" />
<line x1="273.85" y1="515" x2="273.85" y2="515.3" stroke="#555" stroke-width="1.1" />
<line x1="264.35" y1="470.6" x2="283.35" y2="470.6" stroke="#555" stroke-width="1.1" />
<line x1="264.35" y1="515.3" x2="283.35" y2="515.3" stroke="#555" stroke-width="1.1" />
<rect x="255.6" y="474.1" width="36.5" height="40.9" fill="#5A8DBA" stroke="#555" stroke-width="1"/>
<line x1="255.6" y1="495.4" x2="292.1" y2="495.4" stroke="#333" stroke-width="1.1" />
<line x1="319.15" y1="299.5" x2="319.15" y2="367.5" stroke="#555" stroke-width="1.1" />
<line x1="319.15" y1="417.1" x2="319.15" y2="420" stroke="#555" stroke-width="1.1" />
<line x1="309.65" y1="299.5" x2="328.65" y2="299.5" stroke="#555" stroke-width="1.1" />
<line x1="309.65" y1="420" x2="328.65" y2="420" stroke="#555" stroke-width="1.1" />
<rect x="300.9" y="367.5" width="36.5" height="49.6" fill="#5DAA5E" stroke="#555" stroke-width="1"/>
<line x1="300.9" y1="402.8" x2="337.4" y2="402.8" stroke="#333" stroke-width="1.1" />
<ellipse cx="228.0" cy="338.4" rx="1.0" ry="1.7" fill="#8a8a8a" stroke="#555" stroke-width="0.5"/>
<circle cx="228.7" cy="293.1" r="1.55" fill="#D26A10" stroke="#000" stroke-width="0.95"/>
<circle cx="232.1" cy="300.1" r="1.55" fill="#D26A10" stroke="#000" stroke-width="0.95"/>
<circle cx="225.1" cy="313.2" r="1.55" fill="#D26A10" stroke="#000" stroke-width="0.95"/>
<circle cx="224.5" cy="314.9" r="1.55" fill="#D26A10" stroke="#000" stroke-width="0.95"/>
<circle cx="225.9" cy="338.4" r="1.55" fill="#D26A10" stroke="#000" stroke-width="0.95"/>
<circle cx="272.2" cy="470.6" r="1.55" fill="#2C6AA6" stroke="#000" stroke-width="0.95"/>
<circle cx="273.7" cy="475.5" r="1.55" fill="#2C6AA6" stroke="#000" stroke-width="0.95"/>
<circle cx="272.2" cy="514.4" r="1.55" fill="#2C6AA6" stroke="#000" stroke-width="0.95"/>
<circle cx="274.6" cy="515.3" r="1.55" fill="#2C6AA6" stroke="#000" stroke-width="0.95"/>
<circle cx="315.4" cy="299.5" r="1.55" fill="#1E8A2A" stroke="#000" stroke-width="0.95"/>
<circle cx="317.5" cy="389.6" r="1.55" fill="#1E8A2A" stroke="#000" stroke-width="0.95"/>
<circle cx="323.4" cy="415.9" r="1.55" fill="#1E8A2A" stroke="#000" stroke-width="0.95"/>
<circle cx="316.1" cy="420" r="1.55" fill="#1E8A2A" stroke="#000" stroke-width="0.95"/>
<rect x="205.5" y="282.4" width="136.4" height="243.7" fill="none" stroke="#111" stroke-width="1.1"/>
<text x="353" y="254.4" font-size="13.3" font-weight="bold" fill="#000" text-anchor="start" stroke="#000" stroke-width="0.25" >d</text>
<text x="353.4" y="285.9" font-size="9.4" font-weight="bold" fill="#111" text-anchor="start" stroke="#111" stroke-width="0.25" >kDa</text>
<rect x="378" y="287.8" width="25" height="60.8" fill="#e4e4e4" />
<rect x="378" y="287.8" width="12.5" height="60.8" fill="#dfdfdf" />
<rect x="378" y="350.2" width="25" height="14.3" fill="#dcdcdc" />
<rect x="379.5" y="296.5" width="10" height="6" rx="0" fill="#c4c4c4" opacity="1" filter="url(#bl2)"/>
<rect x="378.7" y="301.6" width="11.4" height="8.2" rx="2" fill="#202020" opacity="1" filter="url(#bl2)"/>
<path d="M378.9,301.9 Q384.4,303.5 389.9,301.9 L389.9,309.5 Q384.4,307.9 378.9,309.5 Z" fill="#000" filter="url(#bl05)"/>
<rect x="379.2" y="322.2" width="10.6" height="1.6" rx="0" fill="#cfcfcf" opacity="1" filter="url(#bl1)"/>
<rect x="379.2" y="330.5" width="10.6" height="1.6" rx="0" fill="#d2d2d2" opacity="1" filter="url(#bl1)"/>
<rect x="391.5" y="304.3" width="10" height="1.5" rx="0" fill="#dadada" opacity="1" filter="url(#bl1)"/>
<rect x="378.9" y="357.4" width="11.2" height="3.3" rx="0" fill="#3a3a3a" opacity="1" filter="url(#bl08)"/>
<rect x="390.9" y="357.2" width="11.4" height="3.3" rx="0" fill="#3a3a3a" opacity="1" filter="url(#bl08)"/>
<text x="370.5" y="302.3" font-size="9.4" font-weight="bold" fill="#111" text-anchor="end" stroke="#111" stroke-width="0.25" >50</text>
<line x1="372.3" y1="298.9" x2="376.3" y2="298.9" stroke="#111" stroke-width="1.1" />
<text x="370.5" y="319.9" font-size="9.4" font-weight="bold" fill="#111" text-anchor="end" stroke="#111" stroke-width="0.25" >37</text>
<line x1="372.3" y1="316.5" x2="376.3" y2="316.5" stroke="#111" stroke-width="1.1" />
<text x="370.5" y="339.7" font-size="9.4" font-weight="bold" fill="#111" text-anchor="end" stroke="#111" stroke-width="0.25" >25</text>
<line x1="372.3" y1="336.3" x2="376.3" y2="336.3" stroke="#111" stroke-width="1.1" />
<text x="370.5" y="357.3" font-size="9.4" font-weight="bold" fill="#111" text-anchor="end" stroke="#111" stroke-width="0.25" >37</text>
<line x1="372.3" y1="353.9" x2="376.3" y2="353.9" stroke="#111" stroke-width="1.1" />
<polygon points="403.2,305.2 412.9,303.05 412.9,307.35" fill="#a0a0a0" stroke="#555" stroke-width="0.7"/>
<polygon points="403.2,322.1 412.9,319.95 412.9,324.25" fill="#a0a0a0" stroke="#555" stroke-width="0.7"/>
<polygon points="403.2,331 412.9,328.85 412.9,333.15" fill="#a0a0a0" stroke="#555" stroke-width="0.7"/>
<text x="416.8" y="316.4" font-size="9.4" font-weight="bold" fill="#111" text-anchor="start" stroke="#111" stroke-width="0.25" >CD99L2</text>
<text x="416.8" y="326.9" font-size="9.4" font-weight="bold" fill="#111" text-anchor="start" stroke="#111" stroke-width="0.25" >(Nterm)</text>
<text x="416.8" y="361.2" font-size="9.4" font-weight="bold" fill="#111" text-anchor="start" stroke="#111" stroke-width="0.25" >GAPDH</text>
<text x="366.9" y="375.5" font-size="9.4" font-weight="bold" fill="#111" text-anchor="start" stroke="#111" stroke-width="0.25" >fibroblasts</text>
<text transform="translate(385.4,286.7) rotate(-60)" font-size="9.6" font-weight="bold" fill="#111" stroke="#111" stroke-width="0.25">ctrl</text>
<text transform="translate(398.6,286.4) rotate(-60)" font-size="9.6" font-weight="bold" fill="#ff0000" stroke="#ff0000" stroke-width="0.25">c.382C&gt;T</text>
<text x="468.5" y="254.4" font-size="13.3" font-weight="bold" fill="#000" text-anchor="start" stroke="#000" stroke-width="0.25" >e</text>
<text x="468.9" y="285.9" font-size="9.4" font-weight="bold" fill="#111" text-anchor="start" stroke="#111" stroke-width="0.25" >kDa</text>
<rect x="493.5" y="287.8" width="25" height="60.8" fill="#e4e4e4" />
<rect x="493.5" y="287.8" width="12.5" height="60.8" fill="#dfdfdf" />
<rect x="493.5" y="350.2" width="25" height="14.3" fill="#dcdcdc" />
<rect x="495" y="296.5" width="10" height="6" rx="0" fill="#c4c4c4" opacity="1" filter="url(#bl2)"/>
<rect x="494.2" y="301.6" width="11.4" height="8.2" rx="2" fill="#202020" opacity="1" filter="url(#bl2)"/>
<path d="M494.4,301.9 Q499.9,303.5 505.4,301.9 L505.4,309.5 Q499.9,307.9 494.4,309.5 Z" fill="#000" filter="url(#bl05)"/>
<rect x="494.7" y="322.2" width="10.6" height="1.6" rx="0" fill="#cfcfcf" opacity="1" filter="url(#bl1)"/>
<rect x="494.7" y="330.5" width="10.6" height="1.6" rx="0" fill="#d2d2d2" opacity="1" filter="url(#bl1)"/>
<rect x="507" y="304.3" width="10" height="1.5" rx="0" fill="#dadada" opacity="1" filter="url(#bl1)"/>
<rect x="494.4" y="357.4" width="11.2" height="3.3" rx="0" fill="#3a3a3a" opacity="1" filter="url(#bl08)"/>
<rect x="506.4" y="357.2" width="11.4" height="3.3" rx="0" fill="#3a3a3a" opacity="1" filter="url(#bl08)"/>
<text x="486" y="302.3" font-size="9.4" font-weight="bold" fill="#111" text-anchor="end" stroke="#111" stroke-width="0.25" >50</text>
<line x1="487.8" y1="298.9" x2="491.8" y2="298.9" stroke="#111" stroke-width="1.1" />
<text x="486" y="319.9" font-size="9.4" font-weight="bold" fill="#111" text-anchor="end" stroke="#111" stroke-width="0.25" >37</text>
<line x1="487.8" y1="316.5" x2="491.8" y2="316.5" stroke="#111" stroke-width="1.1" />
<text x="486" y="339.7" font-size="9.4" font-weight="bold" fill="#111" text-anchor="end" stroke="#111" stroke-width="0.25" >25</text>
<line x1="487.8" y1="336.3" x2="491.8" y2="336.3" stroke="#111" stroke-width="1.1" />
<text x="486" y="357.3" font-size="9.4" font-weight="bold" fill="#111" text-anchor="end" stroke="#111" stroke-width="0.25" >37</text>
<line x1="487.8" y1="353.9" x2="491.8" y2="353.9" stroke="#111" stroke-width="1.1" />
<polygon points="518.7,305.2 528.4,303.05 528.4,307.35" fill="#a0a0a0" stroke="#555" stroke-width="0.7"/>
<polygon points="518.7,322.1 528.4,319.95 528.4,324.25" fill="#a0a0a0" stroke="#555" stroke-width="0.7"/>
<polygon points="518.7,331 528.4,328.85 528.4,333.15" fill="#a0a0a0" stroke="#555" stroke-width="0.7"/>
<text x="532.3" y="316.4" font-size="9.4" font-weight="bold" fill="#111" text-anchor="start" stroke="#111" stroke-width="0.25" >CD99L2</text>
<text x="532.3" y="326.9" font-size="9.4" font-weight="bold" fill="#111" text-anchor="start" stroke="#111" stroke-width="0.25" >(Nterm)</text>
<text x="532.3" y="361.2" font-size="9.4" font-weight="bold" fill="#111" text-anchor="start" stroke="#111" stroke-width="0.25" >GAPDH</text>
<text x="482.4" y="375.5" font-size="9.4" font-weight="bold" fill="#111" text-anchor="start" stroke="#111" stroke-width="0.25" >fibroblasts</text>
<text transform="translate(500.9,286.7) rotate(-60)" font-size="9.6" font-weight="bold" fill="#111" stroke="#111" stroke-width="0.25">ctrl</text>
<text transform="translate(514.1,286.4) rotate(-60)" font-size="9.6" font-weight="bold" fill="#ff0000" stroke="#ff0000" stroke-width="0.25">c.391C&gt;T</text>
<text x="583.9" y="254.4" font-size="13.3" font-weight="bold" fill="#000" text-anchor="start" stroke="#000" stroke-width="0.25" >f</text>
<text x="584.3" y="285.9" font-size="9.4" font-weight="bold" fill="#111" text-anchor="start" stroke="#111" stroke-width="0.25" >kDa</text>
<rect x="608.9" y="287.8" width="25" height="60.8" fill="#e4e4e4" />
<rect x="608.9" y="287.8" width="12.5" height="60.8" fill="#dfdfdf" />
<rect x="608.9" y="350.2" width="25" height="14.3" fill="#dcdcdc" />
<rect x="610.4" y="296.5" width="10" height="6" rx="0" fill="#c4c4c4" opacity="1" filter="url(#bl2)"/>
<rect x="609.6" y="301.6" width="11.4" height="8.2" rx="2" fill="#202020" opacity="1" filter="url(#bl2)"/>
<path d="M609.8,301.9 Q615.3,303.5 620.8,301.9 L620.8,309.5 Q615.3,307.9 609.8,309.5 Z" fill="#000" filter="url(#bl05)"/>
<rect x="610.1" y="322.2" width="10.6" height="1.6" rx="0" fill="#cfcfcf" opacity="1" filter="url(#bl1)"/>
<rect x="610.1" y="330.5" width="10.6" height="1.6" rx="0" fill="#d2d2d2" opacity="1" filter="url(#bl1)"/>
<rect x="622.4" y="304.3" width="10" height="1.5" rx="0" fill="#dadada" opacity="1" filter="url(#bl1)"/>
<rect x="609.8" y="357.4" width="11.2" height="3.3" rx="0" fill="#3a3a3a" opacity="1" filter="url(#bl08)"/>
<rect x="621.8" y="357.2" width="11.4" height="3.3" rx="0" fill="#3a3a3a" opacity="1" filter="url(#bl08)"/>
<text x="601.4" y="302.3" font-size="9.4" font-weight="bold" fill="#111" text-anchor="end" stroke="#111" stroke-width="0.25" >50</text>
<line x1="603.2" y1="298.9" x2="607.2" y2="298.9" stroke="#111" stroke-width="1.1" />
<text x="601.4" y="319.9" font-size="9.4" font-weight="bold" fill="#111" text-anchor="end" stroke="#111" stroke-width="0.25" >37</text>
<line x1="603.2" y1="316.5" x2="607.2" y2="316.5" stroke="#111" stroke-width="1.1" />
<text x="601.4" y="339.7" font-size="9.4" font-weight="bold" fill="#111" text-anchor="end" stroke="#111" stroke-width="0.25" >25</text>
<line x1="603.2" y1="336.3" x2="607.2" y2="336.3" stroke="#111" stroke-width="1.1" />
<text x="601.4" y="357.3" font-size="9.4" font-weight="bold" fill="#111" text-anchor="end" stroke="#111" stroke-width="0.25" >37</text>
<line x1="603.2" y1="353.9" x2="607.2" y2="353.9" stroke="#111" stroke-width="1.1" />
<polygon points="634.1,305.2 643.8,303.05 643.8,307.35" fill="#a0a0a0" stroke="#555" stroke-width="0.7"/>
<polygon points="634.1,322.1 643.8,319.95 643.8,324.25" fill="#a0a0a0" stroke="#555" stroke-width="0.7"/>
<polygon points="634.1,331 643.8,328.85 643.8,333.15" fill="#a0a0a0" stroke="#555" stroke-width="0.7"/>
<text x="647.7" y="316.4" font-size="9.4" font-weight="bold" fill="#111" text-anchor="start" stroke="#111" stroke-width="0.25" >CD99L2</text>
<text x="647.7" y="326.9" font-size="9.4" font-weight="bold" fill="#111" text-anchor="start" stroke="#111" stroke-width="0.25" >(Nterm)</text>
<text x="647.7" y="361.2" font-size="9.4" font-weight="bold" fill="#111" text-anchor="start" stroke="#111" stroke-width="0.25" >GAPDH</text>
<text x="597.8" y="375.5" font-size="9.4" font-weight="bold" fill="#111" text-anchor="start" stroke="#111" stroke-width="0.25" >fibroblasts</text>
<text transform="translate(616.3,286.7) rotate(-60)" font-size="9.6" font-weight="bold" fill="#111" stroke="#111" stroke-width="0.25">ctrl</text>
<text transform="translate(629.5,286.4) rotate(-60)" font-size="9.6" font-weight="bold" fill="#ff0000" stroke="#ff0000" stroke-width="0.25">c.467del</text>
<text x="356" y="399.2" font-size="13.3" font-weight="bold" fill="#000" text-anchor="start" stroke="#000" stroke-width="0.25" >g</text>
<text x="356.2" y="446.3" font-size="9.4" font-weight="bold" fill="#111" text-anchor="start" stroke="#111" stroke-width="0.25" >kDa</text>
<rect x="380" y="448.9" width="25.4" height="61.4" fill="#e4e4e4" />
<rect x="380" y="448.9" width="12.5" height="61.4" fill="#dfdfdf" />
<rect x="380" y="512" width="25.4" height="13.8" fill="#dcdcdc" />
<rect x="381.5" y="449" width="10.5" height="11" rx="0" fill="#c8c8c8" opacity="1" filter="url(#bl2)"/>
<rect x="380.8" y="459.7" width="14" height="10" rx="2" fill="#202020" opacity="1" filter="url(#bl2)"/>
<path d="M381.2,460.4 Q387.7,462 394.2,460.4 L394.2,469 Q387.7,467.4 381.2,469 Z" fill="#000" filter="url(#bl05)"/>
<rect x="380.9" y="517.6" width="11.4" height="3.3" rx="0" fill="#3a3a3a" opacity="1" filter="url(#bl08)"/>
<rect x="393" y="517.6" width="11.4" height="3.3" rx="0" fill="#3a3a3a" opacity="1" filter="url(#bl08)"/>
<rect x="381" y="482.2" width="11.5" height="1.8" rx="0" fill="#c4c4c4" opacity="1" filter="url(#bl1)"/>
<rect x="381" y="490" width="11.5" height="2" rx="0" fill="#b4b4b4" opacity="1" filter="url(#bl1)"/>
<rect x="394.3" y="487.5" width="4" height="1.6" rx="0" fill="#777" opacity="1" filter="url(#bl1)"/>
<rect x="398" y="487.5" width="6" height="1.6" rx="0" fill="#b0b0b0" opacity="1" filter="url(#bl1)"/>
<text x="372.6" y="463.3" font-size="9.4" font-weight="bold" fill="#111" text-anchor="end" stroke="#111" stroke-width="0.25" >50</text>
<line x1="374.7" y1="459.9" x2="378.4" y2="459.9" stroke="#111" stroke-width="1.1" />
<text x="372.6" y="480.7" font-size="9.4" font-weight="bold" fill="#111" text-anchor="end" stroke="#111" stroke-width="0.25" >37</text>
<line x1="374.7" y1="477.3" x2="378.4" y2="477.3" stroke="#111" stroke-width="1.1" />
<text x="372.6" y="500.8" font-size="9.4" font-weight="bold" fill="#111" text-anchor="end" stroke="#111" stroke-width="0.25" >25</text>
<line x1="374.7" y1="497.4" x2="378.4" y2="497.4" stroke="#111" stroke-width="1.1" />
<text x="372.6" y="518" font-size="9.4" font-weight="bold" fill="#111" text-anchor="end" stroke="#111" stroke-width="0.25" >37</text>
<line x1="374.7" y1="514.6" x2="378.4" y2="514.6" stroke="#111" stroke-width="1.1" />
<polygon points="406.3,466 416,463.85 416,468.15" fill="#a0a0a0" stroke="#555" stroke-width="0.7"/>
<polygon points="406.3,482.7 416,480.55 416,484.85" fill="#a0a0a0" stroke="#555" stroke-width="0.7"/>
<polygon points="406.3,488.3 416,486.15 416,490.45" fill="#1010e0" stroke="#1010e0" stroke-width="0.7"/>
<polygon points="406.3,492 416,489.85 416,494.15" fill="#a0a0a0" stroke="#555" stroke-width="0.7"/>
<text x="418.6" y="477.5" font-size="9.4" font-weight="bold" fill="#111" text-anchor="start" stroke="#111" stroke-width="0.25" >CD99L2</text>
<text x="418.6" y="488" font-size="9.4" font-weight="bold" fill="#111" text-anchor="start" stroke="#111" stroke-width="0.25" >(Nterm)</text>
<text x="418.6" y="522.3" font-size="9.4" font-weight="bold" fill="#111" text-anchor="start" stroke="#111" stroke-width="0.25" >GAPDH</text>
<text x="369" y="537.8" font-size="9.4" font-weight="bold" fill="#111" text-anchor="start" stroke="#111" stroke-width="0.25" >fibroblasts</text>
<text transform="translate(387.4,447.7) rotate(-60)" font-size="9.6" font-weight="bold" fill="#111" stroke="#111" stroke-width="0.25">ctrl</text>
<text transform="translate(400.6,447.6) rotate(-60)" font-size="9.6" font-weight="bold" fill="#ff0000" stroke="#ff0000" stroke-width="0.25">c.535G&gt;C</text>
<text x="470.9" y="399.2" font-size="13.3" font-weight="bold" fill="#000" text-anchor="start" stroke="#000" stroke-width="0.25" >h</text>
<text x="471.1" y="446.3" font-size="9.4" font-weight="bold" fill="#111" text-anchor="start" stroke="#111" stroke-width="0.25" >kDa</text>
<rect x="494.9" y="448.9" width="25.4" height="61.4" fill="#e4e4e4" />
<rect x="494.9" y="448.9" width="12.5" height="61.4" fill="#dfdfdf" />
<rect x="494.9" y="512" width="25.4" height="13.8" fill="#dcdcdc" />
<rect x="496.4" y="449" width="10.5" height="11" rx="0" fill="#c8c8c8" opacity="1" filter="url(#bl2)"/>
<rect x="495.7" y="460.7" width="12.4" height="8.8" rx="2" fill="#202020" opacity="1" filter="url(#bl2)"/>
<path d="M496.1,461.4 Q501.8,463 507.5,461.4 L507.5,468.8 Q501.8,467.2 496.1,468.8 Z" fill="#000" filter="url(#bl05)"/>
<rect x="495.8" y="517.6" width="11.4" height="3.3" rx="0" fill="#3a3a3a" opacity="1" filter="url(#bl08)"/>
<rect x="507.9" y="517.6" width="11.4" height="3.3" rx="0" fill="#3a3a3a" opacity="1" filter="url(#bl08)"/>
<rect x="495.9" y="482.5" width="11.5" height="1.4" rx="0" fill="#cfcfcf" opacity="1" filter="url(#bl1)"/>
<rect x="495.9" y="491" width="11.5" height="1.6" rx="0" fill="#bdbdbd" opacity="1" filter="url(#bl1)"/>
<rect x="509.9" y="497" width="9" height="1.4" rx="0" fill="#c0c0c0" opacity="1" filter="url(#bl1)"/>
<text x="487.5" y="463.3" font-size="9.4" font-weight="bold" fill="#111" text-anchor="end" stroke="#111" stroke-width="0.25" >50</text>
<line x1="489.6" y1="459.9" x2="493.3" y2="459.9" stroke="#111" stroke-width="1.1" />
<text x="487.5" y="480.7" font-size="9.4" font-weight="bold" fill="#111" text-anchor="end" stroke="#111" stroke-width="0.25" >37</text>
<line x1="489.6" y1="477.3" x2="493.3" y2="477.3" stroke="#111" stroke-width="1.1" />
<text x="487.5" y="500.8" font-size="9.4" font-weight="bold" fill="#111" text-anchor="end" stroke="#111" stroke-width="0.25" >25</text>
<line x1="489.6" y1="497.4" x2="493.3" y2="497.4" stroke="#111" stroke-width="1.1" />
<text x="487.5" y="518" font-size="9.4" font-weight="bold" fill="#111" text-anchor="end" stroke="#111" stroke-width="0.25" >37</text>
<line x1="489.6" y1="514.6" x2="493.3" y2="514.6" stroke="#111" stroke-width="1.1" />
<polygon points="521.2,466 530.9,463.85 530.9,468.15" fill="#a0a0a0" stroke="#555" stroke-width="0.7"/>
<polygon points="521.2,482.7 530.9,480.55 530.9,484.85" fill="#a0a0a0" stroke="#555" stroke-width="0.7"/>
<polygon points="521.2,491.8 530.9,489.65 530.9,493.95" fill="#a0a0a0" stroke="#555" stroke-width="0.7"/>
<polygon points="521.2,497.6 530.9,495.45 530.9,499.75" fill="#1010e0" stroke="#1010e0" stroke-width="0.7"/>
<text x="533.5" y="477.5" font-size="9.4" font-weight="bold" fill="#111" text-anchor="start" stroke="#111" stroke-width="0.25" >CD99L2</text>
<text x="533.5" y="488" font-size="9.4" font-weight="bold" fill="#111" text-anchor="start" stroke="#111" stroke-width="0.25" >(Nterm)</text>
<text x="533.5" y="522.3" font-size="9.4" font-weight="bold" fill="#111" text-anchor="start" stroke="#111" stroke-width="0.25" >GAPDH</text>
<text x="483.9" y="537.8" font-size="9.4" font-weight="bold" fill="#111" text-anchor="start" stroke="#111" stroke-width="0.25" >fibroblasts</text>
<text transform="translate(502.3,447.7) rotate(-60)" font-size="9.6" font-weight="bold" fill="#111" stroke="#111" stroke-width="0.25">ctrl</text>
<text transform="translate(515.5,447.6) rotate(-60)" font-size="9.6" font-weight="bold" fill="#ff0000" stroke="#ff0000" stroke-width="0.25">c.655+1G&gt;A</text>
<text x="586.9" y="399.2" font-size="13.3" font-weight="bold" fill="#000" text-anchor="start" stroke="#000" stroke-width="0.25" >i</text>
<text x="587.1" y="446.3" font-size="9.4" font-weight="bold" fill="#111" text-anchor="start" stroke="#111" stroke-width="0.25" >kDa</text>
<rect x="610.9" y="448.9" width="25.4" height="61.4" fill="#e4e4e4" />
<rect x="610.9" y="448.9" width="12.5" height="61.4" fill="#dfdfdf" />
<rect x="610.9" y="512" width="25.4" height="13.8" fill="#dcdcdc" />
<rect x="612.4" y="449" width="10.5" height="11" rx="0" fill="#c8c8c8" opacity="1" filter="url(#bl2)"/>
<rect x="611.7" y="460.3" width="12.2" height="9.2" rx="2" fill="#202020" opacity="1" filter="url(#bl2)"/>
<path d="M612.1,461 Q617.7,462.6 623.3,461 L623.3,468.8 Q617.7,467.2 612.1,468.8 Z" fill="#000" filter="url(#bl05)"/>
<rect x="611.8" y="517.6" width="11.4" height="3.3" rx="0" fill="#3a3a3a" opacity="1" filter="url(#bl08)"/>
<rect x="623.9" y="517.6" width="11.4" height="3.3" rx="0" fill="#3a3a3a" opacity="1" filter="url(#bl08)"/>
<rect x="624.9" y="466" width="10.5" height="29" rx="0" fill="#d2d2d2" opacity="1" filter="url(#bl2)"/>
<rect x="624.9" y="485" width="10.5" height="10" rx="0" fill="#c4c4c4" opacity="1" filter="url(#bl2)"/>
<rect x="625.2" y="494.7" width="10.8" height="3.2" rx="0" fill="#222" opacity="1" filter="url(#bl08)"/>
<rect x="625.7" y="495.1" width="10" height="2.3" rx="0" fill="#000" opacity="1" filter="url(#bl05)"/>
<text x="603.5" y="463.3" font-size="9.4" font-weight="bold" fill="#111" text-anchor="end" stroke="#111" stroke-width="0.25" >50</text>
<line x1="605.6" y1="459.9" x2="609.3" y2="459.9" stroke="#111" stroke-width="1.1" />
<text x="603.5" y="480.7" font-size="9.4" font-weight="bold" fill="#111" text-anchor="end" stroke="#111" stroke-width="0.25" >37</text>
<line x1="605.6" y1="477.3" x2="609.3" y2="477.3" stroke="#111" stroke-width="1.1" />
<text x="603.5" y="500.8" font-size="9.4" font-weight="bold" fill="#111" text-anchor="end" stroke="#111" stroke-width="0.25" >25</text>
<line x1="605.6" y1="497.4" x2="609.3" y2="497.4" stroke="#111" stroke-width="1.1" />
<text x="603.5" y="518" font-size="9.4" font-weight="bold" fill="#111" text-anchor="end" stroke="#111" stroke-width="0.25" >37</text>
<line x1="605.6" y1="514.6" x2="609.3" y2="514.6" stroke="#111" stroke-width="1.1" />
<polygon points="637.2,466 646.9,463.85 646.9,468.15" fill="#a0a0a0" stroke="#555" stroke-width="0.7"/>
<polygon points="637.2,482.7 646.9,480.55 646.9,484.85" fill="#a0a0a0" stroke="#555" stroke-width="0.7"/>
<polygon points="637.2,491.4 646.9,489.25 646.9,493.55" fill="#a0a0a0" stroke="#555" stroke-width="0.7"/>
<polygon points="637.2,497 646.9,494.85 646.9,499.15" fill="#ee00ee" stroke="#ee00ee" stroke-width="0.7"/>
<text x="649.5" y="477.5" font-size="9.4" font-weight="bold" fill="#111" text-anchor="start" stroke="#111" stroke-width="0.25" >CD99L2</text>
<text x="649.5" y="488" font-size="9.4" font-weight="bold" fill="#111" text-anchor="start" stroke="#111" stroke-width="0.25" >(Nterm)</text>
<text x="649.5" y="522.3" font-size="9.4" font-weight="bold" fill="#111" text-anchor="start" stroke="#111" stroke-width="0.25" >GAPDH</text>
<text x="599.9" y="537.8" font-size="9.4" font-weight="bold" fill="#111" text-anchor="start" stroke="#111" stroke-width="0.25" >fibroblasts</text>
<text transform="translate(618.3,447.7) rotate(-60)" font-size="9.6" font-weight="bold" fill="#111" stroke="#111" stroke-width="0.25">ctrl</text>
<text transform="translate(629.6,447.8) rotate(-60)" font-size="9.6" font-weight="bold" fill="#ff0000" stroke="#ff0000" stroke-width="0.25">c.497-612_655</text>
<text transform="translate(641.8,447.8) rotate(-60)" font-size="9.6" font-weight="bold" fill="#ff0000" stroke="#ff0000" stroke-width="0.25">+2267delinsC</text>
</svg>
</body></html>
